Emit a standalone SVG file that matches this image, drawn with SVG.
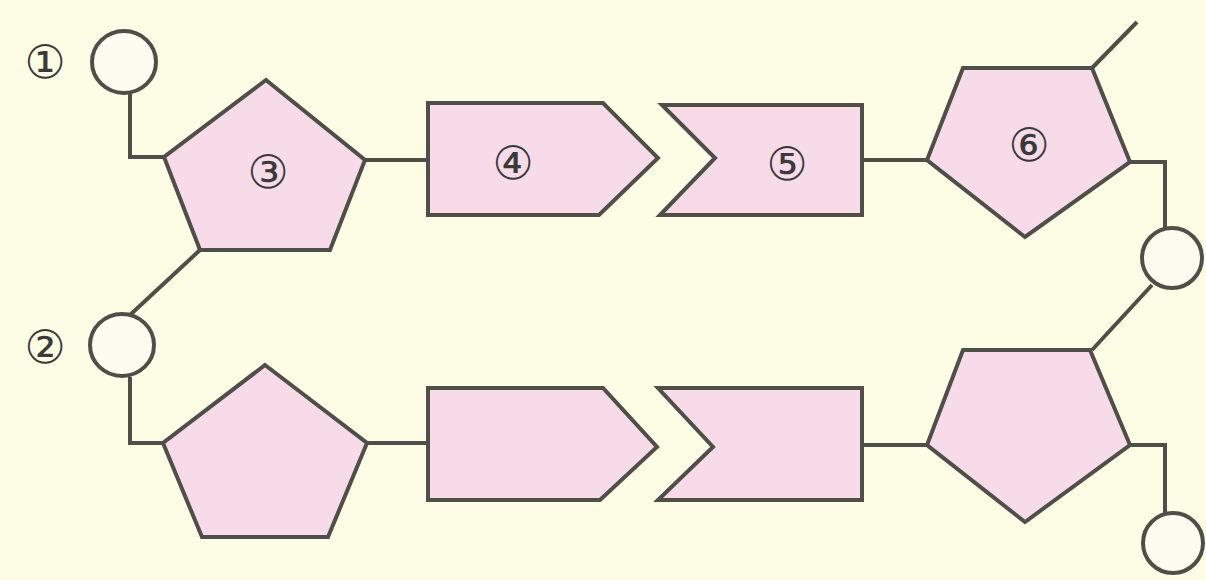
<svg xmlns="http://www.w3.org/2000/svg" width="1206" height="580" viewBox="0 0 1206 580">
<style>
.s{fill:#f7dbe8;stroke:#4f4f4a;stroke-width:4;stroke-linejoin:miter}
.c{fill:#fcfcf0;stroke:#4f4f4a;stroke-width:4}
.l{fill:none;stroke:#4f4f4a;stroke-width:4}
.t{font-family:"DejaVu Sans",sans-serif;font-size:46px;fill:#3a3a3a;text-anchor:middle;dominant-baseline:central}
</style>
<rect width="1206" height="580" fill="#fdfde6"/>
<g id="connectors">
<polyline class="l" points="130,94 130,157 165,157"/>
<line class="l" x1="365" y1="160" x2="428" y2="160"/>
<line class="l" x1="862" y1="160" x2="927" y2="160"/>
<line class="l" x1="1092" y1="68" x2="1137" y2="22"/>
<polyline class="l" points="1130,162 1165,162 1165,229"/>
<line class="l" x1="1152" y1="285" x2="1092" y2="350"/>
<line class="l" x1="130" y1="315" x2="200" y2="250"/>
<polyline class="l" points="130,377 130,443 163,443"/>
<line class="l" x1="367" y1="443" x2="428" y2="443"/>
<line class="l" x1="862" y1="445" x2="927" y2="445"/>
<polyline class="l" points="1130,445 1165,445 1165,514"/>
</g>
<g id="label1"><text class="t" x="45" y="62">①</text></g>
<g id="label2"><text class="t" x="45" y="347">②</text></g>
<g id="phosphate1"><ellipse class="c" cx="124" cy="62" rx="32" ry="31"/></g>
<g id="phosphate2"><ellipse class="c" cx="122" cy="345" rx="32" ry="31"/></g>
<g id="phosphate3"><ellipse class="c" cx="1172" cy="258" rx="30" ry="30"/></g>
<g id="phosphate4"><ellipse class="c" cx="1173" cy="543" rx="30" ry="30"/></g>
<g id="sugar3">
<polygon class="s" points="266,80 365,160 330,250 200,250 164,157"/>
<text class="t" x="268" y="172">③</text>
</g>
<g id="base4">
<polygon class="s" points="428,103 603,103 658,158 599,215 428,215"/>
<text class="t" x="513" y="163">④</text>
</g>
<g id="base5">
<polygon class="s" points="662,105 862,105 862,215 660,215 715,158"/>
<text class="t" x="787" y="164">⑤</text>
</g>
<g id="sugar6">
<polygon class="s" points="963,68 1092,68 1130,162 1025,237 927,160"/>
<text class="t" x="1029" y="145">⑥</text>
</g>
<g id="sugar-bottom-left">
<polygon class="s" points="265,365 367,443 328,537 202,537 163,443"/>
</g>
<g id="base-bottom-1">
<polygon class="s" points="428,388 603,388 657,447 600,500 428,500"/>
</g>
<g id="base-bottom-2">
<polygon class="s" points="658,388 862,388 862,500 658,500 713,447"/>
</g>
<g id="sugar-bottom-right">
<polygon class="s" points="963,350 1090,350 1130,445 1025,522 927,445"/>
</g>
</svg>
